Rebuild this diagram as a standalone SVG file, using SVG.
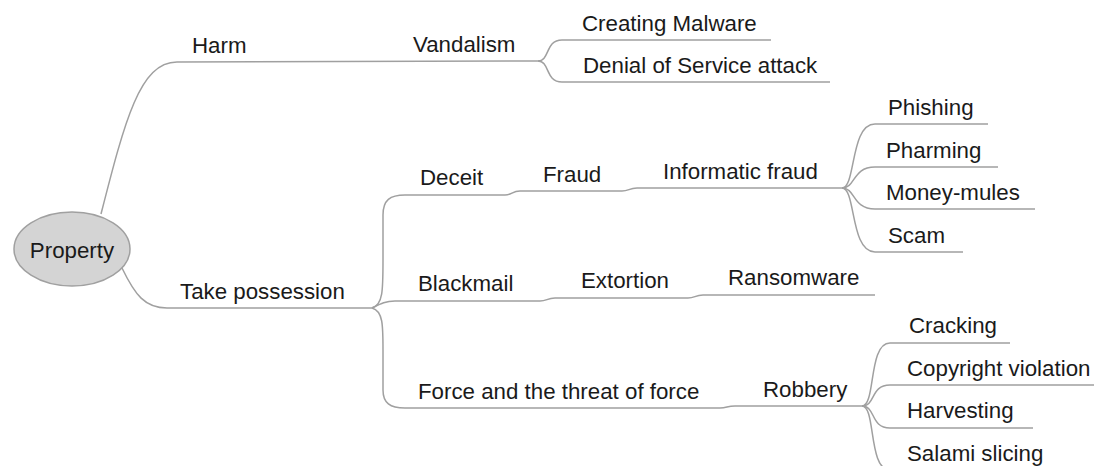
<svg xmlns="http://www.w3.org/2000/svg" width="1094" height="466" viewBox="0 0 1094 466">
<style>
.c{fill:none;stroke:#a0a0a0;stroke-width:1.5}
text{font-family:"Liberation Sans",Arial,sans-serif;font-size:22.3px;fill:#1a1a1a}
</style>
<rect width="1094" height="466" fill="#fff"/>
<g id="connectors">
<path class="c" d="M101,214 C125,120 140,62 177,62 L538,61"/>
<path class="c" d="M538,61 C550,61 545,40 562,40 L771,40"/>
<path class="c" d="M538,61 C550,61 545,82 562,82 L830,82"/>
<path class="c" d="M122,268 C135,295 145,308 167,308 L372,308"/>
<path class="c" d="M372,308 C383,305 383,290 383,260 L383,215 C383,200 390,195 405,195 L505,195 C512,195 512,191 520,191 L622,191 C629,191 629,188 637,188 L842,188"/>
<path class="c" d="M372,308 C380,304 385,301 395,301 L540,301 C547,301 547,298 555,298 L688,298 C695,298 695,295 703,295 L875,295"/>
<path class="c" d="M372,308 C383,311 383,325 383,350 L383,390 C383,403 390,408 405,408 L720,408 C727,408 727,406 735,406 L862,406"/>
<path class="c" d="M842,188 C856,188 850,124 875,124 L988,124"/>
<path class="c" d="M842,188 C856,188 852,167 875,167 L998,167"/>
<path class="c" d="M842,188 C856,188 852,209 875,209 L1035,209"/>
<path class="c" d="M842,188 C856,188 850,252 875,252 L963,252"/>
<path class="c" d="M862,406 C876,406 868,343 890,343 L1010,343"/>
<path class="c" d="M862,406 C876,406 870,385 890,385 L1094,385"/>
<path class="c" d="M862,406 C876,406 870,428 890,428 L1033,428"/>
<path class="c" d="M862,406 C876,406 868,470 890,470 L1040,470"/>
</g>
<g id="property"><ellipse cx="72" cy="249" rx="58" ry="37" fill="#d4d4d4" stroke="#a0a0a0" stroke-width="1.5"/><text x="72" y="258" text-anchor="middle">Property</text></g>
<g id="harm"><text x="192" y="53">Harm</text></g>
<g id="vandalism"><text x="413" y="52">Vandalism</text></g>
<g id="creating-malware"><text x="582" y="31">Creating Malware</text></g>
<g id="dos"><text x="583" y="73">Denial of Service attack</text></g>
<g id="take-possession"><text x="180" y="299">Take possession</text></g>
<g id="deceit"><text x="420" y="185">Deceit</text></g>
<g id="fraud"><text x="543" y="182">Fraud</text></g>
<g id="informatic-fraud"><text x="663" y="179">Informatic fraud</text></g>
<g id="phishing"><text x="888" y="115">Phishing</text></g>
<g id="pharming"><text x="886" y="158">Pharming</text></g>
<g id="money-mules"><text x="886" y="200">Money-mules</text></g>
<g id="scam"><text x="888" y="243">Scam</text></g>
<g id="blackmail"><text x="418" y="291">Blackmail</text></g>
<g id="extortion"><text x="581" y="288">Extortion</text></g>
<g id="ransomware"><text x="728" y="285">Ransomware</text></g>
<g id="force"><text x="418" y="399">Force and the threat of force</text></g>
<g id="robbery"><text x="763" y="397">Robbery</text></g>
<g id="cracking"><text x="909" y="333">Cracking</text></g>
<g id="copyright"><text x="907" y="376">Copyright violation</text></g>
<g id="harvesting"><text x="907" y="418">Harvesting</text></g>
<g id="salami"><text x="907" y="461">Salami slicing</text></g>
</svg>
